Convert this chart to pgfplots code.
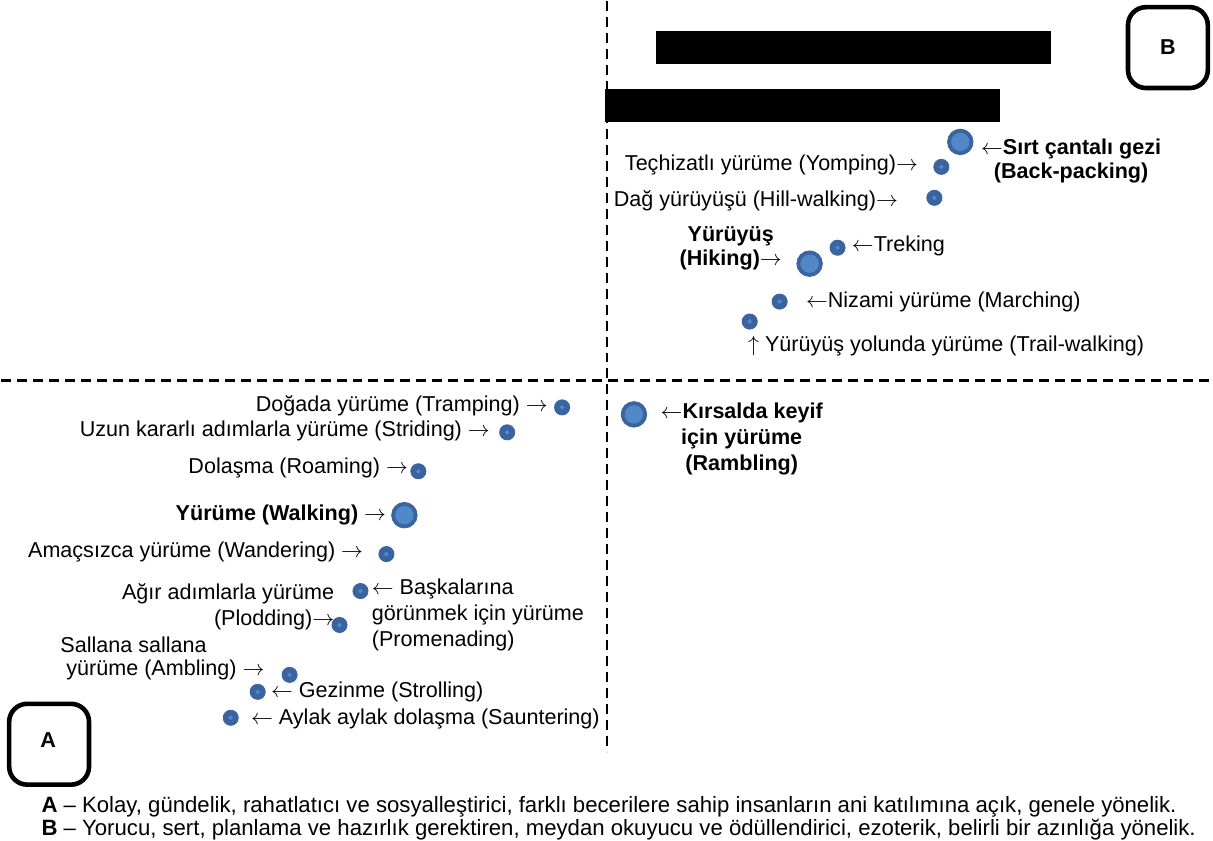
\documentclass[border=0pt]{standalone}
\usepackage{pgfplots}
\pgfplotsset{compat=1.18}
\usepackage{fontspec}
\setmainfont{Liberation Sans}
\definecolor{dotdark}{HTML}{3A63A0}
\definecolor{dotlight}{HTML}{5188C8}
\newcommand{\ra}{\ensuremath{\rightarrow}}
\newcommand{\la}{\ensuremath{\leftarrow}}
\newcommand{\ua}{\ensuremath{\uparrow}}
\tikzset{
  t/.style={font=\fontsize{10.8}{12.9}\selectfont, inner sep=0pt},
  tb/.style={font=\fontsize{10.8}{12.9}\selectfont\bfseries, inner sep=0pt},
}

% points in pixel coordinates of the original figure
\pgfplotstableread{
x y
942 166
935 197
838 247
780 301
750 321
562 407
507 432
418 471
386 554
360 591
339 625
289 675
257 692
230 718
}\smalldots
\pgfplotstableread{
x y
961 141
810 263
634 414
404 515
}\bigdots

\begin{document}
\begin{tikzpicture}
\begin{axis}[
    width=606.5pt, height=426pt, scale only axis,
    xmin=0, xmax=1213, ymin=0, ymax=852, y dir=reverse,
    hide axis, clip=false,
]
% quadrant lines
\addplot[black, line width=1.2pt, dash pattern=on 5pt off 3pt] coordinates {(607,0) (607,752)};
\addplot[black, line width=1.2pt, dash pattern=on 5pt off 3pt] coordinates {(0,380) (1213,380)};

% dots
\addplot[only marks, mark=*, mark size=3.8pt, mark options={fill=dotdark, draw=dotdark}] table {\smalldots};
\addplot[only marks, mark=*, mark size=0.9pt, mark options={fill=dotlight, draw=dotlight}] table {\smalldots};
\addplot[only marks, mark=*, mark size=6.4pt, mark options={fill=dotdark, draw=dotdark}] table {\bigdots};
\addplot[only marks, mark=*, mark size=4.4pt, mark options={fill=dotlight, draw=dotlight}] table {\bigdots};

% redacted bars
\fill[black] (axis cs:656,30) rectangle (axis cs:1052,63);
\fill[black] (axis cs:605,88) rectangle (axis cs:1001,121);

% boxes
\draw[line width=2.3pt, rounded corners=9pt] (axis cs:1129,6) rectangle (axis cs:1209,87);
\node[tb] at (axis cs:1169,46) {B};
\draw[line width=2.3pt, rounded corners=9pt] (axis cs:8,704) rectangle (axis cs:88,785);
\node[tb] at (axis cs:47,740) {A};

% upper right labels
\node[t, anchor=east] at (axis cs:919,164) {Teçhizatlı yürüme (Yomping)\ra};
\node[t, anchor=east] at (axis cs:899,200) {Dağ yürüyüşü (Hill-walking)\ra};
\node[tb, align=center, font=\fontsize{10.8}{12.3}\selectfont\bfseries] at (axis cs:1072,160) {\la Sırt çantalı gezi\\(Back-packing)};
\node[tb, align=center, font=\fontsize{10.8}{12.1}\selectfont\bfseries] at (axis cs:731,248) {Yürüyüş\\(Hiking)\ra};
\node[t, anchor=west] at (axis cs:852,245) {\la Treking};
\node[t, anchor=west] at (axis cs:806,301) {\la Nizami yürüme (Marching)};
\node[t, anchor=west] at (axis cs:748,345) {\ua\ Yürüyüş yolunda yürüme (Trail-walking)};
\node[tb, align=center, font=\fontsize{10.8}{13}\selectfont\bfseries] at (axis cs:742,439) {\la Kırsalda keyif\\için yürüme\\(Rambling)};

% lower left labels
\node[t, anchor=east] at (axis cs:548,405) {Doğada yürüme (Tramping) \ra};
\node[t, anchor=east] at (axis cs:490,431) {Uzun kararlı adımlarla yürüme (Striding) \ra};
\node[t, anchor=east] at (axis cs:408,468) {Dolaşma (Roaming) \ra};
\node[tb, anchor=east] at (axis cs:386,515) {Yürüme (Walking) \ra};
\node[t, anchor=east] at (axis cs:363,552) {Amaçsızca yürüme (Wandering) \ra};
\node[t, anchor=east, align=right] at (axis cs:334,607) {Ağır adımlarla yürüme\\(Plodding)\ra};
\node[t, anchor=west, align=left] at (axis cs:371,615) {\la\ Başkalarına\\görünmek için yürüme\\(Promenading)};
\node[t, anchor=west] at (axis cs:59,645) {Sallana sallana};
\node[t, anchor=west] at (axis cs:65,670) {yürüme (Ambling) \ra};
\node[t, anchor=west] at (axis cs:270,692) {\la\ Gezinme (Strolling)};
\node[t, anchor=west] at (axis cs:250,719) {\la\ Aylak aylak dolaşma (Sauntering)};

% footnote
\node[t, anchor=west, font=\fontsize{11.1}{12}\selectfont] at (axis cs:40,807) {\textbf{A} – Kolay, gündelik, rahatlatıcı ve sosyalleştirici, farklı becerilere sahip insanların ani katılımına açık, genele yönelik.};
\node[t, anchor=west, font=\fontsize{11.1}{12}\selectfont] at (axis cs:40,830) {\textbf{B} – Yorucu, sert, planlama ve hazırlık gerektiren, meydan okuyucu ve ödüllendirici, ezoterik, belirli bir azınlığa yönelik.};
\end{axis}
\end{tikzpicture}
\end{document}
